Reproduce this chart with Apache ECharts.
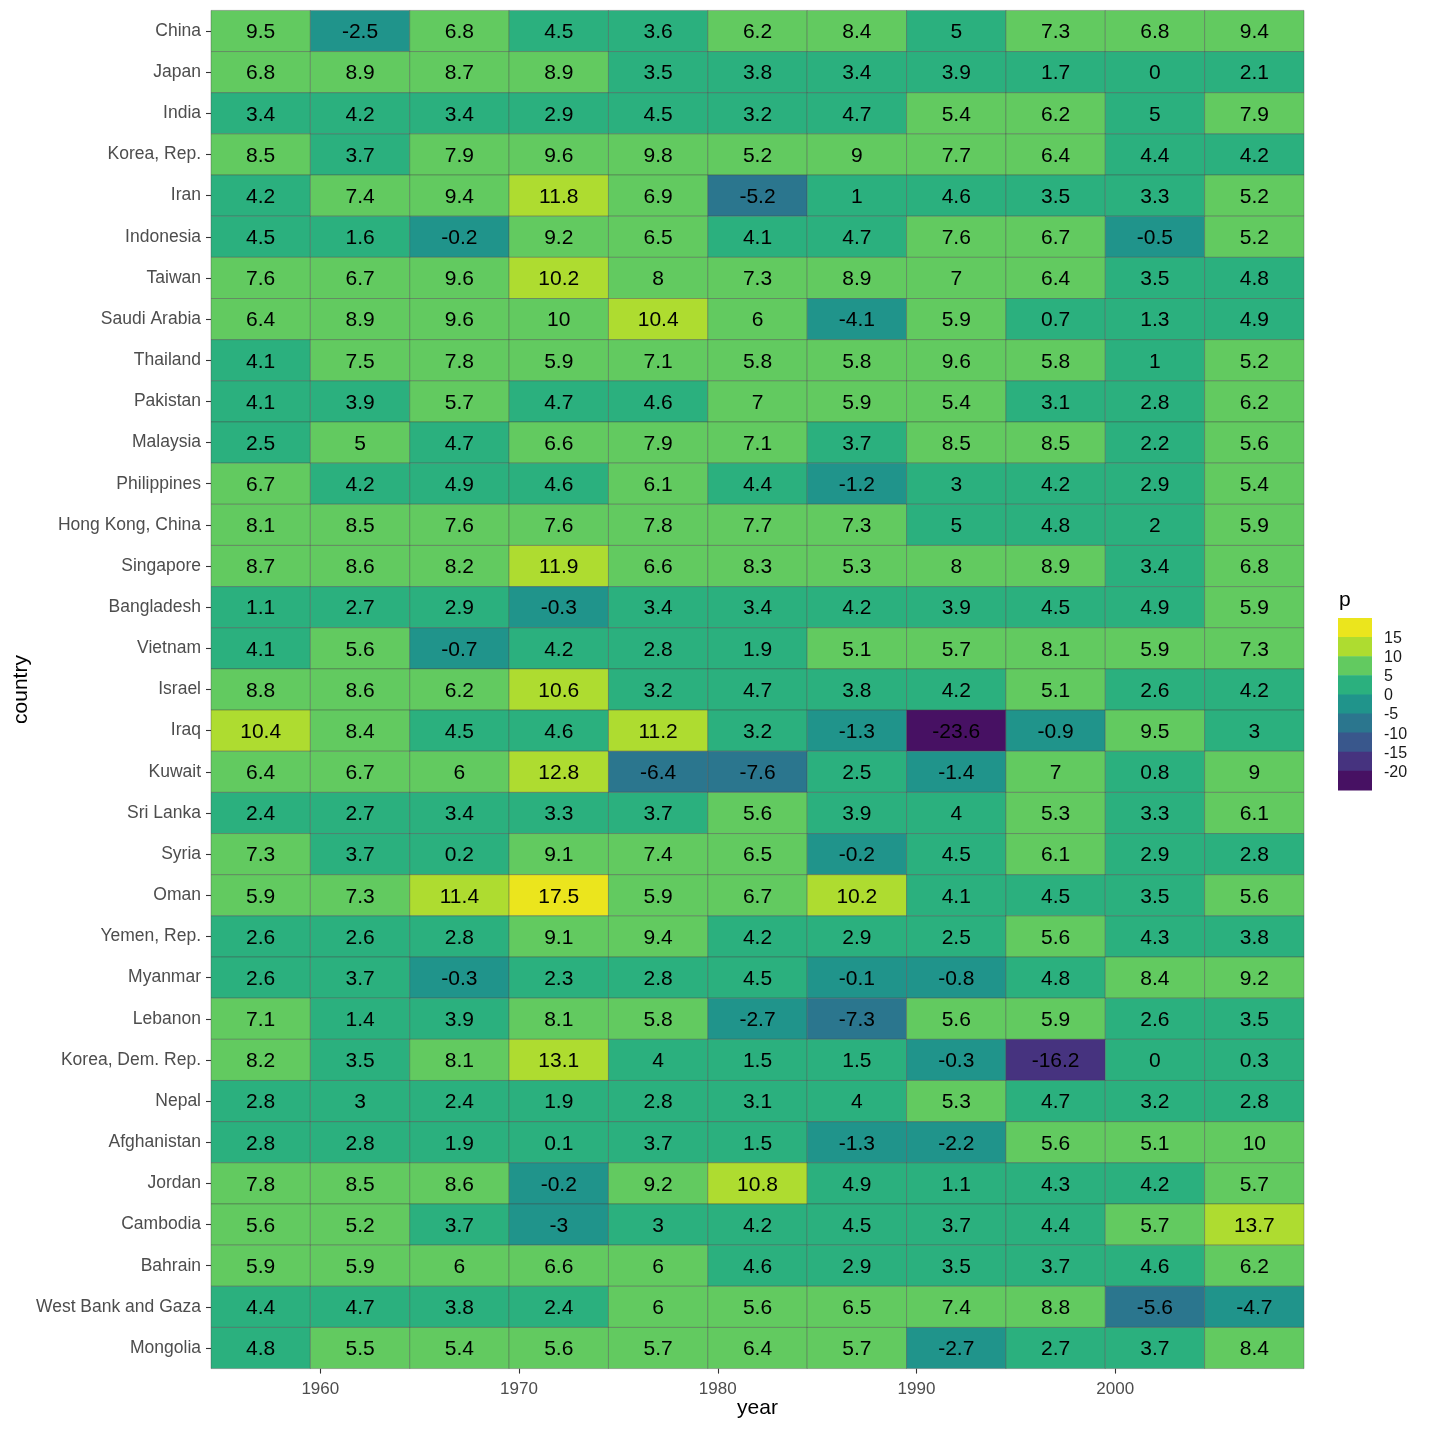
<!DOCTYPE html>
<html><head><meta charset="utf-8">
<script src="https://cdn.jsdelivr.net/npm/echarts@6/dist/echarts.min.js"></script>
<style>html,body{margin:0;padding:0;background:#fff}#c{width:1430px;height:1430px}</style>
</head><body><div id="c"></div>
<script>
const countries = ['China','Japan','India','Korea, Rep.','Iran','Indonesia','Taiwan','Saudi Arabia','Thailand','Pakistan','Malaysia','Philippines','Hong Kong, China','Singapore','Bangladesh','Vietnam','Israel','Iraq','Kuwait','Sri Lanka','Syria','Oman','Yemen, Rep.','Myanmar','Lebanon','Korea, Dem. Rep.','Nepal','Afghanistan','Jordan','Cambodia','Bahrain','West Bank and Gaza','Mongolia'];
const years = [1957,1962,1967,1972,1977,1982,1987,1992,1997,2002,2007];
const p1957 = [9.5,6.8,3.4,8.5,4.2,4.5,7.6,6.4,4.1,4.1,2.5,6.7,8.1,8.7,1.1,4.1,8.8,10.4,6.4,2.4,7.3,5.9,2.6,2.6,7.1,8.2,2.8,2.8,7.8,5.6,5.9,4.4,4.8];
const p1962 = [-2.5,8.9,4.2,3.7,7.4,1.6,6.7,8.9,7.5,3.9,5.02,4.2,8.5,8.6,2.7,5.6,8.6,8.4,6.7,2.7,3.7,7.3,2.6,3.7,1.4,3.5,3,2.8,8.5,5.2,5.9,4.7,5.5];
const p1967 = [6.8,8.7,3.4,7.9,9.4,-0.2,9.6,9.6,7.8,5.7,4.7,4.9,7.6,8.2,2.9,-0.7,6.2,4.5,6,3.4,0.2,11.4,2.8,-0.3,3.9,8.1,2.4,1.9,8.6,3.7,6,3.8,5.4];
const p1972 = [4.5,8.9,2.9,9.6,11.8,9.2,10.2,10,5.9,4.7,6.6,4.6,7.6,11.9,-0.3,4.2,10.6,4.6,12.8,3.3,9.1,17.5,9.1,2.3,8.1,13.1,1.9,0.1,-0.2,-3,6.6,2.4,5.6];
const p1977 = [3.6,3.5,4.5,9.8,6.9,6.5,8,10.4,7.1,4.6,7.9,6.1,7.8,6.6,3.4,2.8,3.2,11.2,-6.4,3.7,7.4,5.9,9.4,2.8,5.8,4,2.8,3.7,9.2,3,6,6,5.7];
const p1982 = [6.2,3.8,3.2,5.2,-5.2,4.1,7.3,6,5.8,7,7.1,4.4,7.7,8.3,3.4,1.9,4.7,3.2,-7.6,5.6,6.5,6.7,4.2,4.5,-2.7,1.5,3.1,1.5,10.8,4.2,4.6,5.6,6.4];
const p1987 = [8.4,3.4,4.7,9,1,4.7,8.9,-4.1,5.8,5.9,3.7,-1.2,7.3,5.3,4.2,5.1,3.8,-1.3,2.5,3.9,-0.2,10.2,2.9,-0.1,-7.3,1.5,4,-1.3,4.9,4.5,2.9,6.5,5.7];
const p1992 = [5,3.9,5.4,7.7,4.6,7.6,7,5.9,9.6,5.4,8.5,3,5,8,3.9,5.7,4.2,-23.6,-1.4,4,4.5,4.1,2.5,-0.8,5.6,-0.3,5.3,-2.2,1.1,3.7,3.5,7.4,-2.7];
const p1997 = [7.3,1.7,6.2,6.4,3.5,6.7,6.4,0.7,5.8,3.1,8.5,4.2,4.8,8.9,4.5,8.1,5.1,-0.9,7,5.3,6.1,4.5,5.6,4.8,5.9,-16.2,4.7,5.6,4.3,4.4,3.7,8.8,2.7];
const p2002 = [6.8,0.02,5,4.4,3.3,-0.5,3.5,1.3,1,2.8,2.2,2.9,2,3.4,4.9,5.9,2.6,9.5,0.8,3.3,2.9,3.5,4.3,8.4,2.6,0.02,3.2,5.1,4.2,5.7,4.6,-5.6,3.7];
const p2007 = [9.4,2.1,7.9,4.2,5.2,5.2,4.8,4.9,5.2,6.2,5.6,5.4,5.9,6.8,5.9,7.3,4.2,3,9,6.1,2.8,5.6,3.8,9.2,3.5,0.3,2.8,10,5.7,13.7,6.2,-4.7,8.4];
const columns = [p1957,p1962,p1967,p1972,p1977,p1982,p1987,p1992,p1997,p2002,p2007];
const breaks = [-20,-15,-10,-5,0,5,10,15];
const binColors = ['#471163','#46337F','#39578C','#2B768E','#20948B','#2BB07E','#62CA60','#AEDC30','#EBE51D'];
const xTickValues = [1960,1970,1980,1990,2000];

const FONT = '"Liberation Sans", Arial, Helvetica, sans-serif';
const data = [];
years.forEach(function (yr, j) {
  countries.forEach(function (c, i) { data.push([yr, i, columns[j][i]]); });
});
const pieces = binColors.map(function (col, i) {
  const p = {color: col};
  if (i > 0) p.gt = breaks[i - 1];
  if (i < breaks.length) p.lte = breaks[i];
  return p;
});
function fmt(v) { var r = Math.round(v * 10) / 10; if (r === 0) r = 0; return String(r); }

// legend (binned colour key)
const lgX = 1338, lgTop = 618, kW = 34, kH = 19.1;
const graphics = [{type: 'text', left: lgX + 1, top: 590, style: {text: 'p', font: '21px ' + FONT, fill: '#000'}}];
const nb = binColors.length;
for (let k = 0; k < nb; k++) {
  graphics.push({type: 'rect', left: lgX, top: lgTop + k * kH, shape: {width: kW, height: kH + 0.5}, style: {fill: binColors[nb - 1 - k]}});
}
for (let k = 0; k < breaks.length; k++) {
  graphics.push({type: 'text', left: lgX + kW + 12, top: lgTop + (k + 1) * kH - 6.5,
    style: {text: String(breaks[breaks.length - 1 - k]), font: '16px ' + FONT, fill: '#1a1a1a'}});
}

const chart = echarts.init(document.getElementById('c'), null, {renderer: 'canvas'});
chart.setOption({
  animation: false,
  backgroundColor: '#fff',
  grid: {left: 211, right: 126, top: 10.4, bottom: 61.4, containLabel: false, outerBoundsMode: 'none'},
  xAxis: {
    type: 'value', min: 1954.5, max: 2009.5,
    name: 'year', nameLocation: 'middle', nameGap: 29, nameMoveOverlap: false,
    nameTextStyle: {fontFamily: FONT, fontSize: 21, color: '#000'},
    axisLine: {show: false}, splitLine: {show: false},
    axisTick: {show: true, length: 5, lineStyle: {color: '#333', width: 1.1}, customValues: xTickValues},
    axisLabel: {fontFamily: FONT, fontSize: 17, color: '#4D4D4D', margin: 12, customValues: xTickValues,
      formatter: function (v) { return String(v); }}
  },
  yAxis: {
    type: 'category', data: countries, inverse: true,
    name: 'country', nameLocation: 'middle', nameGap: 179, nameRotate: 90, nameMoveOverlap: false,
    nameTextStyle: {fontFamily: FONT, fontSize: 21, color: '#000'},
    axisLine: {show: false}, splitLine: {show: false},
    axisTick: {show: true, alignWithLabel: true, length: 5, lineStyle: {color: '#333', width: 1.1}},
    axisLabel: {fontFamily: FONT, fontSize: 17.5, color: '#4D4D4D', margin: 10, padding: [3, 0, 0, 0]}
  },
  visualMap: {type: 'piecewise', show: false, dimension: 2, seriesIndex: 0, pieces: pieces},
  graphic: graphics,
  series: [{
    type: 'custom',
    coordinateSystem: 'cartesian2d',
    encode: {x: 0, y: 1},
    data: data,
    renderItem: function (params, api) {
      const x = api.value(0), yi = api.value(1), v = api.value(2);
      const c = api.coord([x, yi]);
      const s = api.size([5, 1]);
      return {
        type: 'group',
        children: [
          {type: 'rect', shape: {x: c[0] - s[0] / 2, y: c[1] - s[1] / 2, width: s[0], height: s[1]},
           style: {fill: api.visual('color'), stroke: 'rgba(70,70,70,0.55)', lineWidth: 0.7}},
          {type: 'text', style: {x: c[0], y: c[1] + 1.5, text: fmt(v), fill: '#000', font: '21px ' + FONT, align: 'center', verticalAlign: 'middle'}}
        ]
      };
    }
  }]
});
</script></body></html>
